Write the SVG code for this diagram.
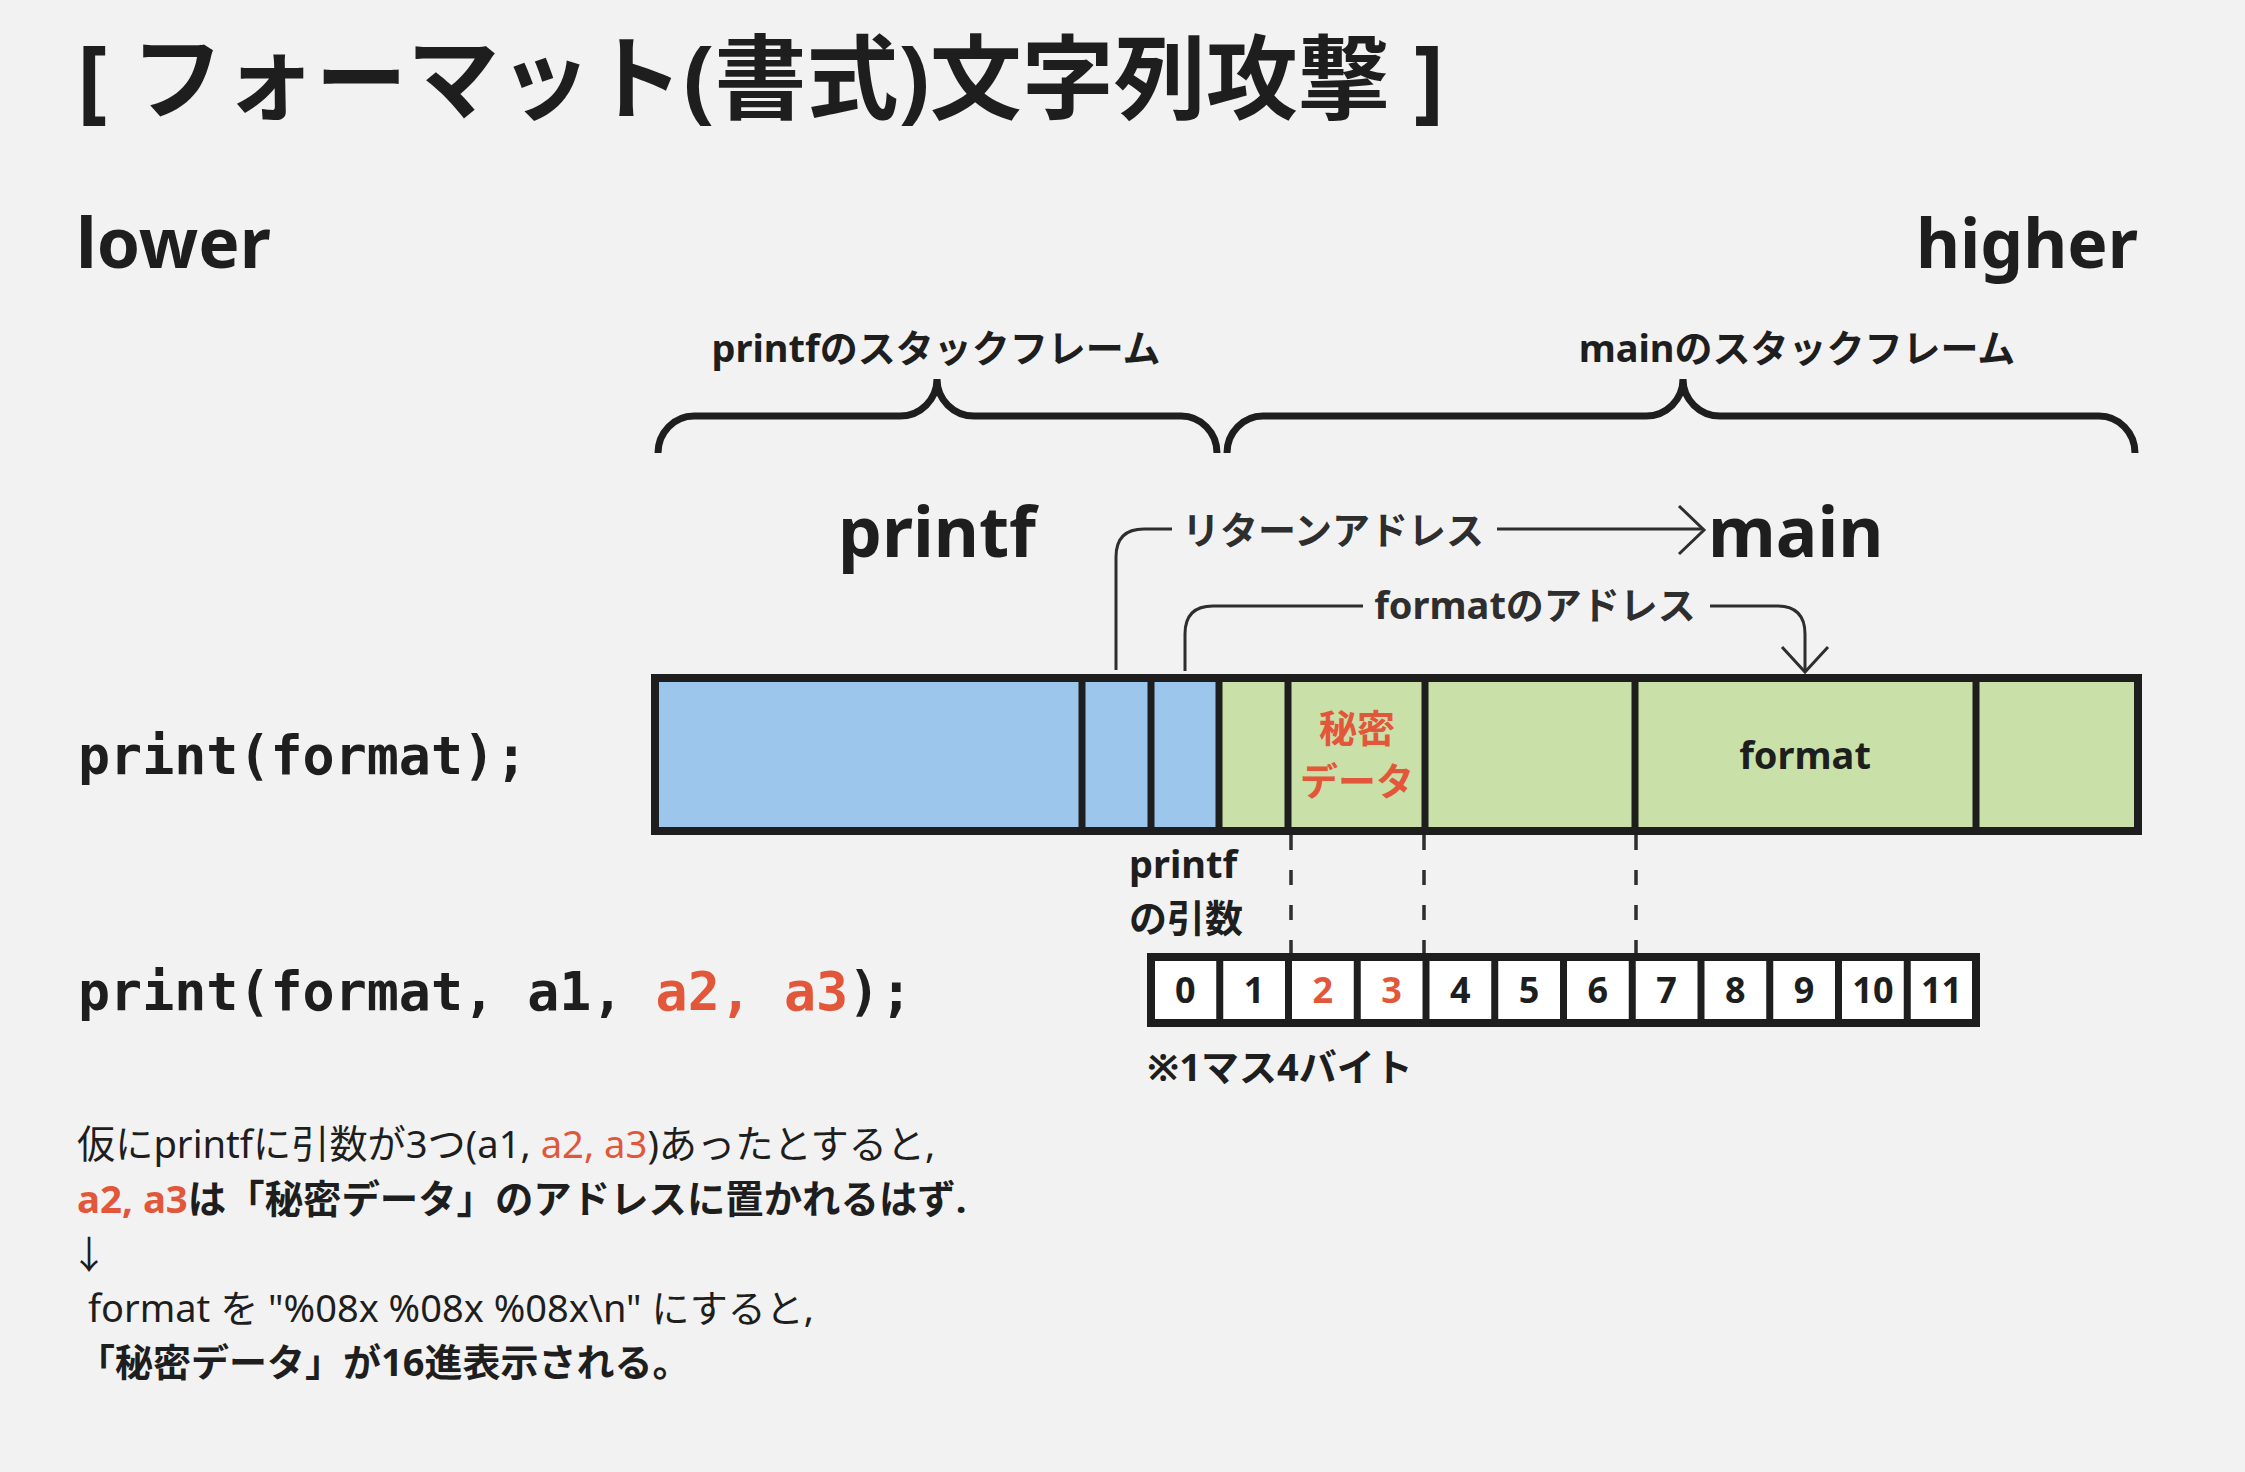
<svg xmlns="http://www.w3.org/2000/svg" width="2245" height="1472" viewBox="0 0 2245 1472">
<style>
text{font-family:"Noto Sans","Noto Sans CJK JP",sans-serif;fill:#1e1e1e}
.b{font-weight:700}
.r{font-weight:400}
.red{fill:#e2573a}
.mono{font-family:"DejaVu Sans Mono","Liberation Mono","Noto Sans CJK JP",monospace;font-weight:700;font-size:53.3px}
.big{font-size:69.5px;font-weight:700}
.lab{font-size:38px;font-weight:700}
.conl{font-size:38px;font-weight:700;fill:#2e2e2e}
.cell{stroke:#1e1e1e;stroke-width:7}
.frame{fill:none;stroke:#1e1e1e;stroke-width:8}
.blue{fill:#9dc6ec}
.green{fill:#c9e1a9}
.brace{fill:none;stroke:#1e1e1e;stroke-width:7}
.con{fill:none;stroke:#2e2e2e;stroke-width:3}
.dash{fill:none;stroke:#2e2e2e;stroke-width:3.5;stroke-dasharray:15 20}
.num{font-size:36px;font-weight:700;text-anchor:middle}
.body{font-size:38px}
</style>
<rect width="2245" height="1472" fill="#f2f2f2"/>

<g id="title">
<text x="77" y="112" style="font-size:92px;font-weight:700">[ フォーマット(書式)文字列攻撃 ]</text>
</g>

<g id="lower"><text x="76" y="268" class="big">lower</text></g>
<g id="higher"><text x="2138" y="268" class="big" text-anchor="end" style="font-size:67.8px">higher</text></g>

<g id="brace-printf">
<path class="brace" d="M658,453 A36,37 0 0 1 694,416 L900,416 A37,37 0 0 0 937,379 A37,37 0 0 0 974,416 L1181,416 A36,37 0 0 1 1217,453"/>
<text x="936" y="362" class="lab" text-anchor="middle">printfのスタックフレーム</text>
</g>
<g id="brace-main">
<path class="brace" d="M1227,453 A36,37 0 0 1 1263,416 L1646,416 A37,37 0 0 0 1683,379 A37,37 0 0 0 1720,416 L2099,416 A36,37 0 0 1 2135,453"/>
<text x="1797" y="362" class="lab" text-anchor="middle">mainのスタックフレーム</text>
</g>

<g id="label-printf"><text x="838" y="557" class="big">printf</text></g>
<g id="label-main"><text x="1708" y="557" class="big">main</text></g>

<g id="code1"><text x="78" y="774" class="mono">print(format);</text></g>
<g id="code2"><text x="78" y="1010" class="mono">print(format, a1, <tspan class="red">a2, a3</tspan>);</text></g>

<g id="stack-bar">
<rect x="655" y="678" width="564" height="153" class="blue"/>
<rect x="1219" y="678" width="919" height="153" class="green"/>
<g class="cell">
<line x1="1082" y1="678" x2="1082" y2="831"/>
<line x1="1151" y1="678" x2="1151" y2="831"/>
<line x1="1219" y1="678" x2="1219" y2="831"/>
<line x1="1288" y1="678" x2="1288" y2="831"/>
<line x1="1425" y1="678" x2="1425" y2="831"/>
<line x1="1635" y1="678" x2="1635" y2="831"/>
<line x1="1976" y1="678" x2="1976" y2="831"/>
</g>
<rect x="655" y="678" width="1483" height="153" class="frame"/>
</g>

<g id="secret-data">
<text x="1357" y="742" class="lab red" text-anchor="middle">秘密</text>
<text x="1357" y="795" class="lab red" text-anchor="middle">データ</text>
</g>
<g id="format-cell"><text x="1805" y="769" class="lab" text-anchor="middle">format</text></g>

<g id="printf-args">
<text x="1129" y="878" class="lab">printf</text>
<text x="1129" y="932" class="lab">の引数</text>
</g>

<g id="byte-array">
<rect x="1151" y="957" width="825" height="66" fill="#ffffff"/>
<g class="cell">
<line x1="1219.75" y1="957" x2="1219.75" y2="1023"/>
<line x1="1288.5" y1="957" x2="1288.5" y2="1023"/>
<line x1="1357.25" y1="957" x2="1357.25" y2="1023"/>
<line x1="1426" y1="957" x2="1426" y2="1023"/>
<line x1="1494.75" y1="957" x2="1494.75" y2="1023"/>
<line x1="1563.5" y1="957" x2="1563.5" y2="1023"/>
<line x1="1632.25" y1="957" x2="1632.25" y2="1023"/>
<line x1="1701" y1="957" x2="1701" y2="1023"/>
<line x1="1769.75" y1="957" x2="1769.75" y2="1023"/>
<line x1="1838.5" y1="957" x2="1838.5" y2="1023"/>
<line x1="1907.25" y1="957" x2="1907.25" y2="1023"/>
</g>
<rect x="1151" y="957" width="825" height="66" class="frame"/>
<text x="1185.4" y="1003" class="num">0</text>
<text x="1254.1" y="1003" class="num">1</text>
<text x="1322.9" y="1003" class="num red">2</text>
<text x="1391.6" y="1003" class="num red">3</text>
<text x="1460.4" y="1003" class="num">4</text>
<text x="1529.1" y="1003" class="num">5</text>
<text x="1597.9" y="1003" class="num">6</text>
<text x="1666.6" y="1003" class="num">7</text>
<text x="1735.4" y="1003" class="num">8</text>
<text x="1804.1" y="1003" class="num">9</text>
<text x="1872.9" y="1003" class="num">10</text>
<text x="1941.6" y="1003" class="num">11</text>
</g>
<g id="note-bytes"><text x="1147" y="1081" style="font-size:38px;font-weight:700">※1マス4バイト</text></g>

<g id="connectors">
<path class="con" d="M1116,670 L1116,557 Q1116,529 1144,529 L1172,529"/>
<text x="1333" y="544" class="conl" text-anchor="middle">リターンアドレス</text>
<path class="con" d="M1497,529 L1703,529"/>
<polyline class="con" points="1679,506 1704,530 1679,554"/>
<path class="con" d="M1185,671 L1185,634 Q1185,606 1213,606 L1363,606"/>
<text x="1535" y="619" class="conl" text-anchor="middle">formatのアドレス</text>
<path class="con" d="M1710,606 L1777,606 Q1805,606 1805,634 L1805,672"/>
<polyline class="con" points="1782,647 1805,672 1828,647"/>
<line class="dash" x1="1291" y1="835" x2="1291" y2="953"/>
<line class="dash" x1="1424" y1="835" x2="1424" y2="953"/>
<line class="dash" x1="1636" y1="835" x2="1636" y2="953"/>
</g>

<g id="explanation" class="body">
<text x="77" y="1158" class="r" style="font-size:38.2px">仮にprintfに引数が3つ(a1, <tspan class="red">a2, a3</tspan>)あったとすると,</text>
<text x="77" y="1213" class="b" style="font-size:38.4px"><tspan class="red">a2, a3</tspan>は「秘密データ」のアドレスに置かれるはず.</text>
<text x="70" y="1268" class="r" style="font-size:38px">↓</text>
<text x="88" y="1322" class="r" style="font-size:38px">format を "%08x %08x %08x\n" にすると,</text>
<text x="77" y="1376" class="b" style="font-size:38px">「秘密データ」が16進表示される。</text>
</g>
</svg>
